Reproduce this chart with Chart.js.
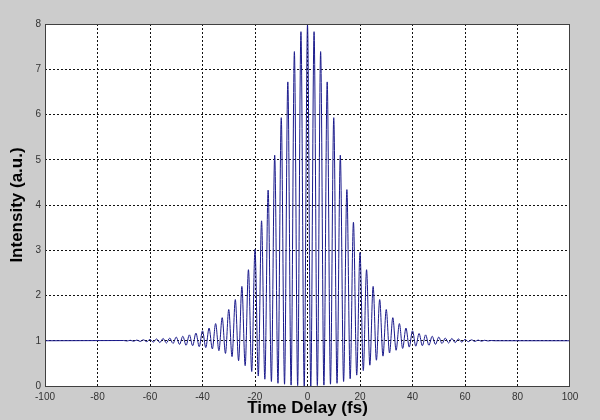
<!DOCTYPE html>
<html>
<head>
<meta charset="utf-8">
<script src="https://cdn.jsdelivr.net/npm/chart.js@4.4.1/dist/chart.umd.min.js"></script>
<style>
    html, body { margin: 0; padding: 0; background: #cccccc; }
    #wrap { width: 600px; height: 420px; }
</style>
</head>
<body>
<div id="wrap"><canvas id="acChart" width="600" height="420"></canvas></div>
<script>
// Fringe peaks and troughs (delay in fs, intensity in a.u.)
const delays = [
    -100,
    -70, -68.75, -67.5, -66.25, -65, -63.75, -62.5, -61.25, -60, -58.75,
    -57.5, -56.25, -55, -53.75, -52.5, -51.25, -50, -48.75, -47.5, -46.25,
    -45, -43.75, -42.5, -41.25, -40, -38.75, -37.5, -36.25, -35, -33.75,
    -32.5, -31.25, -30, -28.75, -27.5, -26.25, -25, -23.75, -22.5, -21.25,
    -20, -18.75, -17.5, -16.25, -15, -13.75, -12.5, -11.25, -10, -8.75,
    -7.5, -6.25, -5, -3.75, -2.5, -1.25,
    0,
    1.25, 2.5, 3.75, 5, 6.25, 7.5, 8.75, 10, 11.25, 12.5,
    13.75, 15, 16.25, 17.5, 18.75, 20, 21.25, 22.5, 23.75, 25,
    26.25, 27.5, 28.75, 30, 31.25, 32.5, 33.75, 35, 36.25, 37.5,
    38.75, 40, 41.25, 42.5, 43.75, 45, 46.25, 47.5, 48.75, 50,
    51.25, 52.5, 53.75, 55, 56.25, 57.5, 58.75, 60, 61.25, 62.5,
    63.75, 65, 66.25, 67.5, 68.75, 70, 71.25,
    100
];
const intensity = [
    1.0,
    1.005, 0.995, 1.01, 0.99, 1.015, 0.985, 1.02, 0.98, 1.03, 0.97,
    1.04, 0.96, 1.05, 0.95, 1.06, 0.94, 1.08, 0.92, 1.10, 0.90,
    1.13, 0.89, 1.17, 0.87, 1.22, 0.85, 1.28, 0.82, 1.38, 0.78,
    1.51, 0.72, 1.69, 0.65, 1.91, 0.56, 2.20, 0.45, 2.57, 0.32,
    3.02, 0.22, 3.65, 0.15, 4.33, 0.10, 5.10, 0.06, 5.93, 0.04,
    6.72, 0.02, 7.39, 0.01, 7.83, 0.0,
    7.98,
    0.0, 7.83, 0.01, 7.39, 0.02, 6.72, 0.04, 5.93, 0.06, 5.10,
    0.10, 4.34, 0.16, 3.62, 0.24, 2.95, 0.34, 2.57, 0.46, 2.20,
    0.57, 1.91, 0.66, 1.69, 0.73, 1.51, 0.79, 1.38, 0.83, 1.28,
    0.86, 1.22, 0.88, 1.16, 0.89, 1.13, 0.90, 1.10, 0.92, 1.08,
    0.94, 1.06, 0.95, 1.05, 0.96, 1.04, 0.97, 1.03, 0.98, 1.02,
    0.985, 1.015, 0.99, 1.01, 0.995, 1.005, 1.0,
    1.0
];
const xTicks = [-100, -80, -60, -40, -20, 0, 20, 40, 60, 80, 100];
const yTicks = [0, 1, 2, 3, 4, 5, 6, 7, 8];

const points = delays.map((d, i) => ({ x: d, y: intensity[i] }));

// grey figure, white axes box with a dark frame (matlab look)
const frame = {
    id: 'frame',
    beforeDraw(chart) {
        const { ctx, chartArea: a } = chart;
        ctx.save();
        ctx.fillStyle = '#cccccc';
        ctx.fillRect(0, 0, chart.width, chart.height);
        ctx.fillStyle = '#ffffff';
        ctx.fillRect(a.left, a.top, a.right - a.left, a.bottom - a.top);
        ctx.restore();
    },
    afterDraw(chart) {
        const { ctx, chartArea: a } = chart;
        ctx.save();
        ctx.strokeStyle = '#404040';
        ctx.lineWidth = 1;
        ctx.strokeRect(a.left + 0.5, a.top + 0.5, a.right - a.left - 1, a.bottom - a.top);
        ctx.restore();
    }
};

// skip the grid lines that sit on the frame
const gridColor = (ctx) => {
    const n = ctx.scale.ticks.length;
    return (ctx.index === 0 || ctx.index === n - 1) ? 'rgba(0,0,0,0)' : '#111';
};

const tickFont = { family: '"Liberation Sans", Arial, sans-serif', size: 10 };
const titleFont = { family: '"Liberation Sans", Arial, sans-serif', size: 17, weight: 'bold' };

new Chart(document.getElementById('acChart'), {
    type: 'line',
    data: {
        datasets: [{
            data: points,
            borderColor: '#1a1a8c',
            borderWidth: 1,
            pointRadius: 0,
            fill: false,
            cubicInterpolationMode: 'monotone'
        }]
    },
    options: {
        responsive: false,
        animation: false,
        layout: { padding: { left: 0, right: 30, top: 24, bottom: 0 } },
        plugins: { legend: { display: false }, tooltip: { enabled: false } },
        scales: {
            x: {
                type: 'linear',
                min: -100,
                max: 100,
                afterBuildTicks(scale) { scale.ticks = xTicks.map(v => ({ value: v })); },
                afterFit(scale) { scale.height = 34; },
                grid: { color: gridColor, drawTicks: false },
                border: { display: false, dash: [2, 2] },
                ticks: { color: '#333', font: tickFont, padding: 5, maxRotation: 0 },
                title: { display: true, text: 'Time Delay (fs)', color: '#000', font: titleFont, padding: { top: 0, bottom: 1 } }
            },
            y: {
                type: 'linear',
                min: 0,
                max: 8,
                afterBuildTicks(scale) { scale.ticks = yTicks.map(v => ({ value: v })); },
                afterFit(scale) { scale.width = 45; },
                grid: { color: gridColor, drawTicks: false },
                border: { display: false, dash: [2, 2] },
                ticks: { color: '#333', font: tickFont, padding: 4 },
                title: { display: true, text: 'Intensity (a.u.)', color: '#000', font: titleFont, padding: { top: 7, bottom: 0 } }
            }
        }
    },
    plugins: [frame]
});
</script>
</body>
</html>
